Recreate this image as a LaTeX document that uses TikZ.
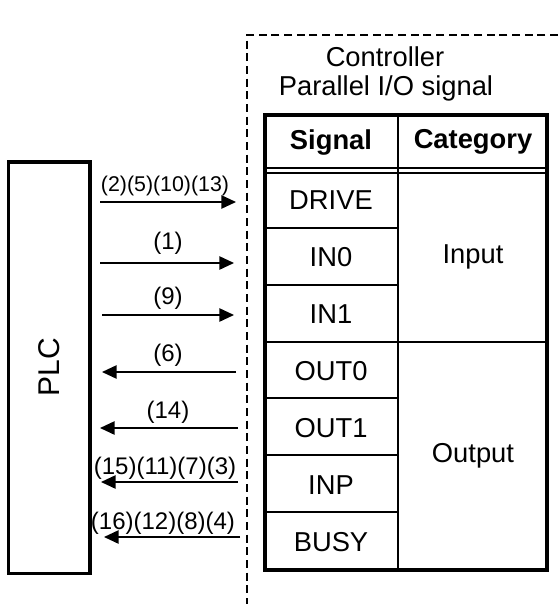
\documentclass[tikz,border=0pt]{standalone}
\usepackage{fontspec}
\setmainfont{Liberation Sans}
\usetikzlibrary{arrows.meta}
\begin{document}
\begin{tikzpicture}[x=0.75pt,y=-0.75pt,
  cell/.style={font=\fontsize{20.5}{24}\selectfont, inner sep=0pt},
  hdr/.style={font=\fontsize{20.5}{24}\selectfont\bfseries, inner sep=0pt},
  lbl/.style={font=\fontsize{18}{20}\selectfont, inner sep=0pt},
  sig/.style={line width=1.2pt, -{Triangle[length=11pt,width=10pt]}},
  thick border/.style={line width=2.3pt},
  thin rule/.style={line width=1.1pt},
  dashline/.style={line width=1.1pt, dash pattern=on 6pt off 3.5pt}]
\useasboundingbox (0,0) rectangle (558,604);
% dashed controller boundary
\coordinate (dc) at (247,35);
\coordinate (dr) at (558,35);
\coordinate (db) at (247,604);
\draw[dashline] (dr) -- (dc) -- (db);
% titles
\node[cell] (t1) at (385,57) {Controller};
\node[cell] (t2) at (386,88) {Parallel I/O signal};
% PLC box
\node[draw, thick border, inner sep=0pt, outer sep=0pt,
      minimum width=61.1pt, minimum height=308.3pt] (plcbox) at (49.25,367.5) {};
\node[font=\fontsize{22.5}{24}\selectfont, rotate=90, inner sep=0pt] (plc) at (plcbox.center) {PLC};
% table rules
\draw[thin rule] (398,115) -- (398,570);
\draw[thin rule] (265,168) -- (547,168);
\draw[thin rule] (265,173) -- (547,173);
\foreach \yy in {228,285,342,398,455,512} \draw[thin rule] (265,\yy) -- (398,\yy);
\draw[thin rule] (398,342) -- (547,342);
\draw[thick border] (265,115) rectangle (547,570);
% table text
\node[hdr] (hs) at (331,142) {Signal};
\node[hdr] (hc) at (473,142) {Category};
\node[cell] (drive) at (331,200) {DRIVE};
\node[cell] (in0) at (331,257) {IN0};
\node[cell] (in1) at (331,314) {IN1};
\node[cell] (out0) at (331,371) {OUT0};
\node[cell] (out1) at (331,428) {OUT1};
\node[cell] (inp) at (331,485) {INP};
\node[cell] (busy) at (331,542) {BUSY};
\node[cell] (input) at (473,257) {Input};
\node[cell] (output) at (473,456) {Output};
% arrow end points
\coordinate (a1l) at (100,202); \coordinate (a1r) at (236,202);
\coordinate (a2l) at (100,263); \coordinate (a2r) at (234,263);
\coordinate (a3l) at (102,315); \coordinate (a3r) at (234,315);
\coordinate (a4l) at (102,372); \coordinate (a4r) at (236,372);
\coordinate (a5l) at (100,428); \coordinate (a5r) at (238,428);
\coordinate (a6l) at (101,482); \coordinate (a6r) at (238,482);
\coordinate (a7l) at (104,537); \coordinate (a7r) at (240,537);
\draw[sig] (a1l) -- (a1r);
\draw[sig] (a2l) -- (a2r);
\draw[sig] (a3l) -- (a3r);
\draw[sig] (a4r) -- (a4l);
\draw[sig] (a5r) -- (a5l);
\draw[sig] (a6r) -- (a6l);
\draw[sig] (a7r) -- (a7l);
% arrow labels
\node[lbl, font=\fontsize{16}{18}\selectfont] (l1) at (165,186) {(2)(5)(10)(13)};
\node[lbl] (l2) at (168,243) {(1)};
\node[lbl] (l3) at (168,298) {(9)};
\node[lbl] (l4) at (168,355) {(6)};
\node[lbl] (l5) at (168,412) {(14)};
\node[lbl] (l6) at (165,468) {(15)(11)(7)(3)};
\node[lbl] (l7) at (163,523) {(16)(12)(8)(4)};
\end{tikzpicture}
\end{document}
